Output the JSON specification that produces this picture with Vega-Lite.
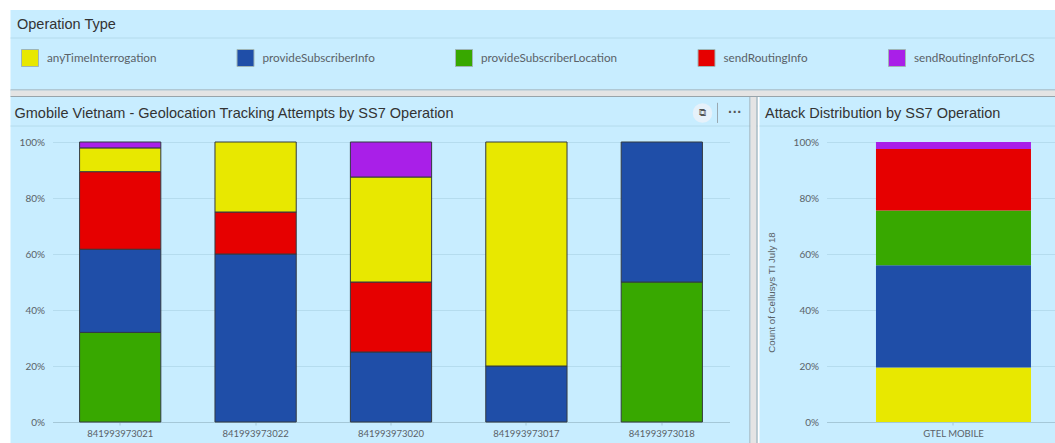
{"$schema":"https://vega.github.io/schema/vega-lite/v6.json","background":"white","padding":{"left":9.5,"top":10,"right":0,"bottom":0},"autosize":{"type":"pad"},"spacing":0,"config":{"view":{"stroke":null,"fill":"#c8edff"},"concat":{"spacing":0},"font":"Lato","title":{"font":"Liberation Sans","fontWeight":"normal","color":"#333333","anchor":"start","frame":"group"},"axis":{"labelFont":"Lato","labelColor":"#5a6268","labelFontSize":10,"titleFont":"Liberation Sans","titleFontWeight":"normal","titleColor":"#5a6268","titleFontSize":9.7}},"datasets":{"ops":[{"operation":"anyTimeInterrogation"},{"operation":"provideSubscriberInfo"},{"operation":"provideSubscriberLocation"},{"operation":"sendRoutingInfo"},{"operation":"sendRoutingInfoForLCS"}],"gmobile":[{"msisdn":"841993973021","operation":"provideSubscriberLocation","share":32,"rank":1},{"msisdn":"841993973021","operation":"provideSubscriberInfo","share":29.7,"rank":2},{"msisdn":"841993973021","operation":"sendRoutingInfo","share":27.7,"rank":3},{"msisdn":"841993973021","operation":"anyTimeInterrogation","share":8.5,"rank":4},{"msisdn":"841993973021","operation":"sendRoutingInfoForLCS","share":2.1,"rank":5},{"msisdn":"841993973022","operation":"provideSubscriberInfo","share":60,"rank":2},{"msisdn":"841993973022","operation":"sendRoutingInfo","share":15,"rank":3},{"msisdn":"841993973022","operation":"anyTimeInterrogation","share":25,"rank":4},{"msisdn":"841993973020","operation":"provideSubscriberInfo","share":25,"rank":2},{"msisdn":"841993973020","operation":"sendRoutingInfo","share":25,"rank":3},{"msisdn":"841993973020","operation":"anyTimeInterrogation","share":37.5,"rank":4},{"msisdn":"841993973020","operation":"sendRoutingInfoForLCS","share":12.5,"rank":5},{"msisdn":"841993973017","operation":"provideSubscriberInfo","share":20,"rank":2},{"msisdn":"841993973017","operation":"anyTimeInterrogation","share":80,"rank":4},{"msisdn":"841993973018","operation":"provideSubscriberLocation","share":50,"rank":1},{"msisdn":"841993973018","operation":"provideSubscriberInfo","share":50,"rank":2}],"gtel":[{"carrier":"GTEL MOBILE","operation":"anyTimeInterrogation","share":19.5,"rank":1},{"carrier":"GTEL MOBILE","operation":"provideSubscriberInfo","share":36.5,"rank":2},{"carrier":"GTEL MOBILE","operation":"provideSubscriberLocation","share":19.5,"rank":3},{"carrier":"GTEL MOBILE","operation":"sendRoutingInfo","share":22,"rank":4},{"carrier":"GTEL MOBILE","operation":"sendRoutingInfoForLCS","share":2.5,"rank":5}],"one":[{}]},"resolve":{"scale":{"color":"independent"},"legend":{"color":"independent"}},"vconcat":[{"width":1045,"height":87,"title":{"text":"Operation Type","fontSize":14.5,"offset":-22,"dx":6.5},"data":{"name":"one"},"layer":[{"mark":{"type":"rect","color":"#c8edff","opacity":1},"encoding":{"x":{"datum":0,"type":"quantitative","scale":{"domain":[0,1045],"range":[0,1045],"nice":false},"axis":null},"x2":{"datum":1045},"y":{"datum":0,"type":"quantitative","scale":{"domain":[0,87],"range":[0,87],"nice":false},"axis":null},"y2":{"datum":87}}},{"mark":{"type":"rule","stroke":"#b4dbec","strokeWidth":1},"encoding":{"y":{"datum":28,"type":"quantitative","scale":{"domain":[0,87],"range":[0,87],"nice":false},"axis":null}}},{"mark":{"type":"rect","color":"#98a4aa","opacity":1},"encoding":{"x":{"datum":0,"type":"quantitative","scale":{"domain":[0,1045],"range":[0,1045],"nice":false},"axis":null},"x2":{"datum":1045},"y":{"datum":79.5,"type":"quantitative","scale":{"domain":[0,87],"range":[0,87],"nice":false},"axis":null},"y2":{"datum":80.5}}},{"mark":{"type":"rect","color":"#e4e4e4","opacity":1},"encoding":{"x":{"datum":0,"type":"quantitative","scale":{"domain":[0,1045],"range":[0,1045],"nice":false},"axis":null},"x2":{"datum":1045},"y":{"datum":80.5,"type":"quantitative","scale":{"domain":[0,87],"range":[0,87],"nice":false},"axis":null},"y2":{"datum":86}}},{"mark":{"type":"rect","color":"#98a4aa","opacity":1},"encoding":{"x":{"datum":0,"type":"quantitative","scale":{"domain":[0,1045],"range":[0,1045],"nice":false},"axis":null},"x2":{"datum":1045},"y":{"datum":86,"type":"quantitative","scale":{"domain":[0,87],"range":[0,87],"nice":false},"axis":null},"y2":{"datum":87}}},{"data":{"name":"ops"},"mark":{"type":"square","opacity":0},"encoding":{"color":{"field":"operation","type":"nominal","scale":{"domain":["anyTimeInterrogation","provideSubscriberInfo","provideSubscriberLocation","sendRoutingInfo","sendRoutingInfoForLCS"],"range":["#e8e800","#1f4ea8","#38a800","#e60000","#a91fe8"]},"legend":{"title":null,"orient":"none","legendX":10.5,"legendY":39,"direction":"horizontal","columns":5,"gridAlign":"none","columnPadding":77.5,"symbolType":"square","symbolSize":289,"symbolOpacity":1,"symbolStrokeColor":"#9fb5b5","symbolStrokeWidth":1,"labelFont":"Lato","labelFontSize":11.7,"labelColor":"#5a6268","labelOffset":8}}}}]},{"hconcat":[{"width":747,"height":346,"title":{"text":"Gmobile Vietnam - Geolocation Tracking Attempts by SS7 Operation","fontSize":14.5,"offset":-24.5,"dx":4},"resolve":{"scale":{"x":"independent"},"axis":{"x":"independent"}},"layer":[{"data":{"name":"gmobile"},"mark":{"type":"bar","stroke":"#333a40","strokeWidth":1},"encoding":{"x":{"field":"msisdn","type":"nominal","sort":["841993973021","841993973022","841993973020","841993973017","841993973018"],"scale":{"range":[42,719],"paddingInner":0.4,"paddingOuter":0.2},"axis":{"title":null,"labelAngle":0,"labelFontSize":9.5,"offset":-21,"domainColor":"#a5c8d8","tickColor":"#a5c8d8","tickSize":3,"labelPadding":3,"grid":false}},"y":{"field":"share","type":"quantitative","stack":"normalize","scale":{"domain":[0,1],"range":[325,45],"nice":false},"axis":{"title":null,"format":".0%","values":[0,0.2,0.4,0.6,0.8,1],"offset":-42,"domain":false,"ticks":false,"labelPadding":8,"gridColor":"#b5dcee","grid":true}},"order":{"field":"rank","type":"ordinal"},"color":{"field":"operation","type":"nominal","scale":{"domain":["anyTimeInterrogation","provideSubscriberInfo","provideSubscriberLocation","sendRoutingInfo","sendRoutingInfoForLCS"],"range":["#e8e800","#1f4ea8","#38a800","#e60000","#a91fe8"]},"legend":null}}},{"data":{"name":"one"},"mark":{"type":"rule","stroke":"#b4dbec","strokeWidth":1},"encoding":{"y":{"datum":1.057,"type":"quantitative"}}},{"data":{"name":"one"},"mark":{"type":"rect","color":"#98a4aa","opacity":1},"encoding":{"x":{"datum":739,"type":"quantitative","scale":{"domain":[0,747],"range":[0,747]},"axis":null},"x2":{"datum":740}}},{"data":{"name":"one"},"mark":{"type":"rect","color":"#e4e4e4","opacity":1},"encoding":{"x":{"datum":740,"type":"quantitative","scale":{"domain":[0,747],"range":[0,747]},"axis":null},"x2":{"datum":746}}},{"data":{"name":"one"},"mark":{"type":"rect","color":"#98a4aa","opacity":1},"encoding":{"x":{"datum":746,"type":"quantitative","scale":{"domain":[0,747],"range":[0,747]},"axis":null},"x2":{"datum":747}}},{"data":{"name":"one"},"mark":{"type":"circle","color":"#e6f1fa","opacity":1,"size":380},"encoding":{"x":{"datum":692,"type":"quantitative","scale":{"domain":[0,747],"range":[0,747]},"axis":null},"y":{"datum":1.1036,"type":"quantitative"}}},{"data":{"name":"one"},"mark":{"type":"text","text":"⧉","fontSize":10,"color":"#555555","font":"DejaVu Sans"},"encoding":{"x":{"datum":692,"type":"quantitative","scale":{"domain":[0,747],"range":[0,747]},"axis":null},"y":{"datum":1.1036,"type":"quantitative"}}},{"data":{"name":"one"},"mark":{"type":"text","text":"···","fontSize":14,"fontWeight":"bold","color":"#555555","font":"Liberation Sans"},"encoding":{"x":{"datum":724.5,"type":"quantitative","scale":{"domain":[0,747],"range":[0,747]},"axis":null},"y":{"datum":1.1036,"type":"quantitative"}}},{"data":{"name":"one"},"mark":{"type":"rule","stroke":"#9aa8b0","strokeWidth":1},"encoding":{"x":{"datum":707,"type":"quantitative","scale":{"domain":[0,747],"range":[0,747]},"axis":null},"y":{"datum":1.14,"type":"quantitative"},"y2":{"datum":1.068}}}]},{"width":298,"height":346,"title":{"text":"Attack Distribution by SS7 Operation","fontSize":14.5,"offset":-24.5,"dx":5.5},"layer":[{"data":{"name":"gtel"},"mark":{"type":"bar"},"encoding":{"x":{"field":"carrier","type":"nominal","scale":{"range":[67,298],"paddingInner":0.3,"paddingOuter":0.1716,"align":0.651},"axis":{"title":null,"labelAngle":0,"labelFontSize":9.5,"offset":-21,"domainColor":"#a5c8d8","tickColor":"#a5c8d8","tickSize":3,"labelPadding":3,"grid":false}},"y":{"field":"share","type":"quantitative","stack":"normalize","scale":{"domain":[0,1],"range":[325,45],"nice":false},"axis":{"title":"Count of Cellusys TI July 18","titleX":-50.5,"titleY":195,"format":".0%","values":[0,0.2,0.4,0.6,0.8,1],"offset":-67,"domain":false,"ticks":false,"labelPadding":8,"gridColor":"#b5dcee","grid":true}},"order":{"field":"rank","type":"ordinal"},"color":{"field":"operation","type":"nominal","scale":{"domain":["anyTimeInterrogation","provideSubscriberInfo","provideSubscriberLocation","sendRoutingInfo","sendRoutingInfoForLCS"],"range":["#e8e800","#1f4ea8","#38a800","#e60000","#a91fe8"]},"legend":null}}},{"data":{"name":"one"},"mark":{"type":"rule","stroke":"#b4dbec","strokeWidth":1},"encoding":{"y":{"datum":1.057,"type":"quantitative"}}}]}]}]}
